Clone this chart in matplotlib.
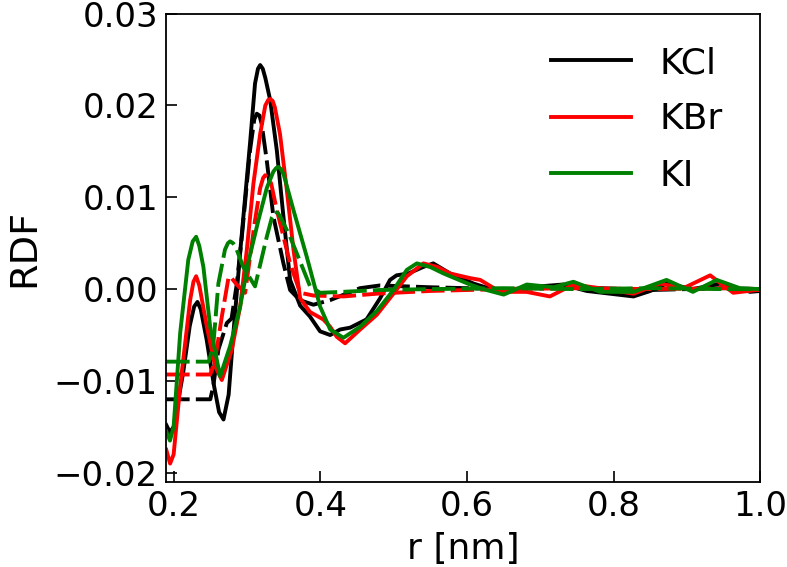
import numpy as np
import matplotlib
matplotlib.use("Agg")
import matplotlib.pyplot as plt

# r [nm] / RDF values
# solid curves
r_kcl = [0.190, 0.195, 0.200, 0.213, 0.222, 0.228, 0.2325, 0.237, 0.245, 0.255, 0.262, 0.268,
         0.275, 0.2815, 0.2907, 0.2975, 0.3043, 0.311, 0.315, 0.318, 0.3215, 0.325, 0.3316,
         0.3407, 0.3497, 0.3588, 0.3725, 0.386, 0.3997, 0.4134, 0.427, 0.4406, 0.463, 0.4815,
         0.495, 0.504, 0.520, 0.540, 0.554, 0.577, 0.609, 0.645, 0.670, 0.699, 0.731, 0.763,
         0.795, 0.827, 0.850, 0.872, 0.908, 0.945, 0.970, 0.986, 1.000]
v_kcl = [-0.0148, -0.0156, -0.0150, -0.0091, -0.0040, -0.0019, -0.0014, -0.0022, -0.0055, -0.0105,
         -0.0134, -0.0142, -0.0115, -0.0048, 0.0040, 0.0100, 0.0160, 0.0224, 0.0240, 0.0244,
         0.0240, 0.0230, 0.0206, 0.0151, 0.0079, 0.0010, -0.0018, -0.0030, -0.0046, -0.0050,
         -0.0044, -0.0042, -0.0033, -0.0010, 0.0010, 0.0015, 0.0017, 0.0024, 0.0028, 0.0017,
         0.0006, -0.0003, -0.0001, 0.0003, 0.0005, -0.0002, -0.0005, -0.0008, -0.0002, 0.0006,
         0.0000, 0.0006, 0.0001, -0.0003, -0.0002]

r_kbr = [0.190, 0.1952, 0.200, 0.2089, 0.2225, 0.2270, 0.2307, 0.2350, 0.2453, 0.2566, 0.2657,
         0.2793, 0.2907, 0.2998, 0.3088, 0.318, 0.3250, 0.3290, 0.3316, 0.3350, 0.338, 0.345,
         0.3543, 0.3634, 0.3725, 0.386, 0.404, 0.4134, 0.4225, 0.4338, 0.4543, 0.477, 0.4997,
         0.518, 0.5406, 0.560, 0.577, 0.604, 0.618, 0.645, 0.681, 0.713, 0.745, 0.781, 0.827,
         0.863, 0.895, 0.9315, 0.963, 0.995, 1.000]
v_kbr = [-0.0175, -0.0190, -0.0180, -0.0106, -0.0012, 0.0008, 0.0014, 0.0004, -0.0041, -0.0084,
         -0.0099, -0.0066, -0.0019, 0.0043, 0.0115, 0.0169, 0.0200, 0.0206, 0.0207, 0.0205, 0.0198,
         0.0169, 0.0108, 0.0043, -0.0010, -0.0025, -0.0033, -0.0041, -0.0052, -0.0059, -0.0044,
         -0.0028, -0.0005, 0.0014, 0.0028, 0.0024, 0.0017, 0.0012, 0.0010, -0.0003, -0.0003,
         -0.0008, 0.0005, 0.0001, -0.0005, 0.0006, 0.0001, 0.0015, -0.0004, -0.0001, -0.0001]

r_ki = [0.190, 0.195, 0.200, 0.2089, 0.220, 0.2260, 0.2307, 0.2350, 0.2406, 0.2498, 0.2634,
        0.277, 0.2907, 0.3020, 0.3156, 0.327, 0.3360, 0.3400, 0.3429, 0.3460, 0.350, 0.3634,
        0.3816, 0.3997, 0.4134, 0.4315, 0.4543, 0.477, 0.4997, 0.518, 0.5316, 0.550, 0.568,
        0.604, 0.622, 0.650, 0.6815, 0.718, 0.745, 0.7815, 0.827, 0.872, 0.908, 0.9405, 0.972,
        1.000]
v_ki = [-0.0155, -0.0165, -0.0150, -0.0048, 0.0032, 0.0052, 0.0057, 0.0047, 0.0024, -0.0041,
        -0.0095, -0.0062, -0.0019, 0.0030, 0.0075, 0.0110, 0.0128, 0.0132, 0.0133, 0.0131, 0.0125,
        0.0086, 0.0035, -0.0019, -0.0044, -0.0053, -0.0041, -0.0024, -0.0001, 0.0021, 0.0028,
        0.0024, 0.0017, 0.0005, 0.0000, -0.0006, 0.0005, 0.0002, 0.0008, -0.0003, -0.0003,
        0.0010, -0.0003, 0.0010, 0.0001, 0.0000]

# dashed curves
r_kcl_d = [0.190, 0.250, 0.254, 0.261, 0.2725, 0.279, 0.286, 0.293, 0.304, 0.310, 0.3134, 0.317,
           0.320, 0.327, 0.336, 0.3497, 0.3588, 0.372, 0.3906, 0.4134, 0.454, 0.4815, 0.55,
           0.65, 0.75, 0.85, 0.95, 1.000]
v_kcl_d = [-0.0120, -0.0120, -0.0106, -0.0066, -0.0037, -0.0032, 0.0005, 0.0057, 0.0150, 0.0185,
           0.0191, 0.0189, 0.0180, 0.0140, 0.0079, 0.0028, -0.0001, -0.0012, -0.0017, -0.0012,
           0.0001, 0.0004, 0.0002, 0.0000, 0.0002, -0.0001, 0.0001, 0.0000]

r_kbr_d = [0.190, 0.250, 0.2566, 0.2657, 0.2747, 0.277, 0.2860, 0.2975, 0.311, 0.318, 0.3220,
           0.3248, 0.3280, 0.3330, 0.3407, 0.3588, 0.3725, 0.3906, 0.4315, 0.477, 0.55, 0.65,
           0.75, 0.85, 0.95, 1.000]
v_kbr_d = [-0.0093, -0.0093, -0.0077, -0.0030, 0.0012, 0.0014, 0.0005, -0.0004, 0.0075, 0.0110,
           0.0121, 0.0124, 0.0122, 0.0115, 0.0086, 0.0028, -0.0004, -0.0007, -0.0008, -0.0005,
           -0.0002, 0.0000, 0.0001, 0.0000, 0.0001, 0.0000]

r_ki_d = [0.190, 0.248, 0.254, 0.261, 0.270, 0.274, 0.277, 0.281, 0.285, 0.295, 0.311, 0.327,
          0.334, 0.3384, 0.342, 0.346, 0.3588, 0.377, 0.386, 0.3997, 0.430, 0.48, 0.55, 0.65,
          0.75, 0.85, 0.95, 1.000]
v_ki_d = [-0.0079, -0.0079, -0.0062, 0.0006, 0.0043, 0.0050, 0.0052, 0.0050, 0.0045, 0.0024,
          0.0003, 0.0057, 0.0078, 0.0084, 0.0083, 0.0078, 0.0057, 0.0021, 0.0003, -0.0004,
          -0.0003, -0.0001, 0.0000, 0.0001, 0.0000, 0.0001, 0.0000, 0.0000]

labels = ["KCl", "KBr", "KI"]
colors = ["black", "red", "green"]
solid = [(r_kcl, v_kcl), (r_kbr, v_kbr), (r_ki, v_ki)]
dashed = [(r_kcl_d, v_kcl_d), (r_kbr_d, v_kbr_d), (r_ki_d, v_ki_d)]

fig = plt.figure(figsize=(7.87, 5.67), dpi=100)
ax = fig.add_axes([0.2113, 0.150, 0.7549, 0.826])

for (rs, vs), (rd, vd), lab, c in zip(solid, dashed, labels, colors):
    ax.plot(rs, vs, color=c, lw=2.8, label=lab)
    ax.plot(rd, vd, color=c, lw=2.8, linestyle=(0, (6, 1.6)))

ax.set_xlim(0.19, 1.0)
ax.set_ylim(-0.021, 0.03)
ax.set_xticks([0.2, 0.4, 0.6, 0.8, 1.0])
ax.set_yticks([-0.02, -0.01, 0.0, 0.01, 0.02, 0.03])
ax.set_yticklabels(["\u22120.02", "\u22120.01", "0.00", "0.01", "0.02", "0.03"])
ax.tick_params(direction="in", length=8, width=1.2, labelsize=24.5, pad=6)
for s in ax.spines.values():
    s.set_linewidth(1.3)

ax.set_xlabel("r [nm]", fontsize=26, labelpad=6)
ax.set_ylabel("RDF", fontsize=27.5)
ax.yaxis.set_label_coords(-0.208, 0.5)
ax.legend(loc="upper right", bbox_to_anchor=(0.9916, 1.0), frameon=False, fontsize=26,
          handlelength=2.2, labelspacing=0.62)

plt.savefig("out.png", dpi=100)
